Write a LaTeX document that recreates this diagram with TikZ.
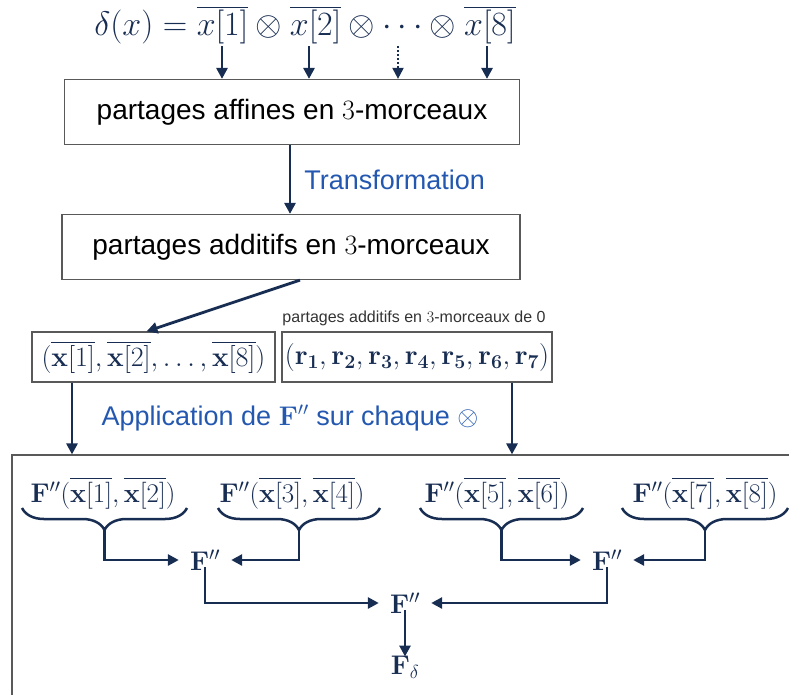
\RequirePackage{fix-cm}
\documentclass[tikz,border=0pt]{standalone}
\usepackage[no-math]{fontspec}
\setmainfont{Liberation Sans}
\usepackage{amsmath}
\usetikzlibrary{arrows.meta,decorations.pathreplacing,calc}
\definecolor{navy}{RGB}{24,45,82}
\definecolor{labelblue}{RGB}{36,88,176}
\tikzset{
  box/.style={draw=black!65, line width=1.2pt, inner sep=0pt, text=black,
    font=\fontsize{28}{30}\selectfont},
  mbox/.style={box, text=navy, font=\fontsize{28}{30}\selectfont},
  arr/.style={draw=navy, line width=2.8pt, -{Triangle[length=11pt,width=11pt]}},
  lbl/.style={text=labelblue, font=\fontsize{27}{30}\selectfont, inner sep=0pt},
  fnode/.style={text=navy, font=\fontsize{27}{29}\selectfont, inner sep=1pt},
  brc/.style={draw=navy, line width=2.5pt,
    decorate, decoration={brace, amplitude=22pt}}
}
\begin{document}
\begin{tikzpicture}[x=1pt,y=-1pt]
  \useasboundingbox (0,0) rectangle (789,694);
  \node[text=navy, font=\fontsize{34}{36}\selectfont] (delta) at (305,25)
    {$\delta(x)=\overline{x[1]}\otimes\overline{x[2]}\otimes\cdots\otimes\overline{x[8]}$};
  \node[box, minimum width=455pt, minimum height=65pt] (aff) at (292,112)
    {partages affines en $3$-morceaux};
  \coordinate (t1) at (222,46);
  \coordinate (t2) at (309,46);
  \coordinate (t3) at (398,46);
  \coordinate (t4) at (487,46);
  \draw[arr] (t1) -- (t1 |- aff.north);
  \draw[arr] (t2) -- (t2 |- aff.north);
  \draw[arr, dash pattern=on 2pt off 2pt, line width=2pt] (t3) -- (t3 |- aff.north);
  \draw[arr] (t4) -- (t4 |- aff.north);

  \node[box, minimum width=458pt, minimum height=65pt] (add) at (291,247)
    {partages additifs en $3$-morceaux};
  \draw[arr] (aff.south -| 290,0) -- (add.north -| 290,0)
    node[lbl, midway, right=13pt] (tr) {Transformation};

  \node[mbox, minimum width=243pt, minimum height=50pt] (xs) at (153.5,357)
    {$(\overline{\mathbf{x}[1]},\overline{\mathbf{x}[2]},\ldots,\overline{\mathbf{x}[8]})$};
  \node[mbox, minimum width=270pt, minimum height=50pt] (rs) at (417,357)
    {$(\mathbf{r}_{\mathbf{1}},\mathbf{r}_{\mathbf{2}},\mathbf{r}_{\mathbf{3}},\mathbf{r}_{\mathbf{4}},\mathbf{r}_{\mathbf{5}},\mathbf{r}_{\mathbf{6}},\mathbf{r}_{\mathbf{7}})$};
  \node[text=black!80, font=\fontsize{16}{18}\selectfont, inner sep=0pt] (zero) at (414,318)
    {partages additifs en $3$-morceaux de 0};
  \draw[arr] ($(add.south)+(9,0)$) -- ($(xs.north)+(-7,0)$);

  \node[draw=black!65, line width=1.2pt, minimum width=788pt, minimum height=250pt,
    inner sep=0pt] (big) at (406,580) {};
  \coordinate (l1) at (72,0);
  \coordinate (l2) at (512,0);
  \draw[arr] (xs.south -| l1) -- (big.north -| l1);
  \draw[arr] (rs.south -| l2) -- (big.north -| l2);
  \node[lbl] (app) at (290,418) {Application de $\mathbf{F}''$ sur chaque $\otimes$};

  \node[fnode] (p12) at (103,493) {$\mathbf{F}''(\overline{\mathbf{x}[1]},\overline{\mathbf{x}[2]})$};
  \node[fnode] (p34) at (292,493) {$\mathbf{F}''(\overline{\mathbf{x}[3]},\overline{\mathbf{x}[4]})$};
  \node[fnode] (p56) at (497,493) {$\mathbf{F}''(\overline{\mathbf{x}[5]},\overline{\mathbf{x}[6]})$};
  \node[fnode] (p78) at (705,493) {$\mathbf{F}''(\overline{\mathbf{x}[7]},\overline{\mathbf{x}[8]})$};
  \draw[brc] (187,508) -- (22,508) coordinate[pos=0.5] (m1);
  \draw[brc] (380,508) -- (218,508) coordinate[pos=0.5] (m2);
  \draw[brc] (583,508) -- (420,508) coordinate[pos=0.5] (m3);
  \draw[brc] (788,508) -- (622,508) coordinate[pos=0.5] (m4);
  \coordinate (b1) at ($(m1)+(0,22)$);
  \coordinate (b2) at ($(m2)+(0,22)$);
  \coordinate (b3) at ($(m3)+(0,22)$);
  \coordinate (b4) at ($(m4)+(0,22)$);

  \node[fnode] (f14) at (205,560) {$\mathbf{F}''$};
  \node[fnode] (f58) at (607,560) {$\mathbf{F}''$};
  \node[fnode] (f18) at (405,603) {$\mathbf{F}''$};
  \node[fnode] (fd) at (405,667) {$\mathbf{F}_\delta$};
  \draw[arr] (b1) |- ([xshift=-10pt]f14.west);
  \draw[arr] (b2) |- ([xshift=10pt]f14.east);
  \draw[arr] (b3) |- ([xshift=-10pt]f58.west);
  \draw[arr] (b4) |- ([xshift=10pt]f58.east);
  \draw[arr] ([yshift=4pt]f14.south) |- ([xshift=-10pt]f18.west);
  \draw[arr] ([yshift=4pt]f58.south) |- ([xshift=10pt]f18.east);
  \draw[arr] ([yshift=4pt]f18.south -| fd.north) -- ([yshift=-2pt]fd.north);
\end{tikzpicture}
\end{document}
